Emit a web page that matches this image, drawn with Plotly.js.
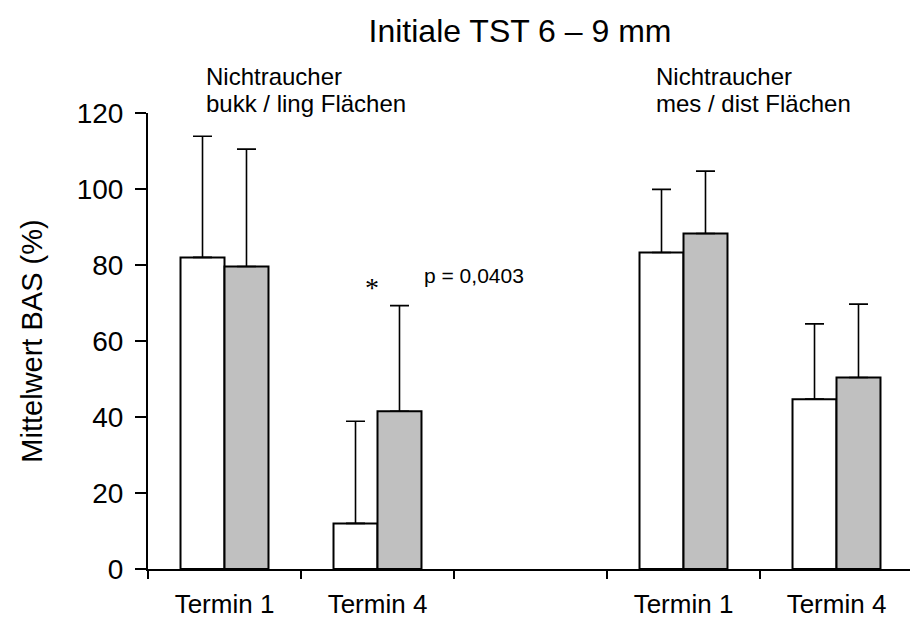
<!DOCTYPE html>
<html>
<head>
<meta charset="utf-8">
<script src="https://cdn.plot.ly/plotly-3.0.1.min.js"></script>
<style>
  html, body { margin: 0; padding: 0; background: #ffffff; }
  #chart { width: 910px; height: 619px; }
</style>
</head>
<body>
<div id="chart"></div>
<script>
// ---- data ----
const slotIds = ["bl_T1", "bl_T4", "gap", "md_T1", "md_T4"];
const slotLabels = ["Termin 1", "Termin 4", "", "Termin 1", "Termin 4"];
const seriesA = [82.0, 12.0, null, 83.3, 44.7];      // white bars
const seriesA_sd = [31.9, 26.9, null, 16.6, 19.8];
const seriesB = [79.6, 41.5, null, 88.3, 50.4];      // grey bars
const seriesB_sd = [30.9, 27.8, null, 16.4, 19.3];
const yTicks = [0, 20, 40, 60, 80, 100, 120];
const chartTitle = "Initiale TST 6 – 9 mm";
const yTitle = "Mittelwert BAS (%)";
const groupLeft = ["Nichtraucher", "bukk / ling Flächen"];
const groupRight = ["Nichtraucher", "mes / dist Flächen"];
const sigMark = "*";
const pText = "p = 0,0403";

const FONT = "Liberation Sans, Arial, sans-serif";

// plot-area geometry helpers (pixels -> paper)
const W = 910, H = 619;
const M = { l: 148, r: 0, t: 113, b: 50 };
const PW = W - M.l - M.r, PH = H - M.t - M.b;
const px = x => (x - M.l) / PW;
const py = y => (H - M.b - y) / PH;

function barTrace(vals, sd, fill) {
  return {
    type: "bar",
    x: slotIds,
    y: vals,
    marker: { color: fill, line: { color: "#000000", width: 2 } },
    error_y: {
      type: "data", symmetric: false,
      array: sd, arrayminus: sd.map(v => (v === null ? null : 0)),
      color: "#000000", thickness: 1.6, width: 9.5, visible: true
    },
    hoverinfo: "skip",
    showlegend: false
  };
}

const data = [
  barTrace(seriesA, seriesA_sd, "#ffffff"),
  barTrace(seriesB, seriesB_sd, "#c0c0c0")
];

const layout = {
  width: W, height: H,
  margin: M,
  paper_bgcolor: "#ffffff",
  plot_bgcolor: "#ffffff",
  font: { family: FONT, color: "#000000" },
  barmode: "group",
  bargap: 0.425,
  bargroupgap: 0,
  showlegend: false,
  title: {
    text: chartTitle,
    font: { size: 32, family: FONT, color: "#000000" },
    x: 520 / W, xanchor: "center",
    y: 1 - 31 / H, yanchor: "middle",
    xref: "container", yref: "container"
  },
  xaxis: {
    type: "category",
    categoryorder: "array",
    categoryarray: slotIds,
    tickmode: "array",
    tickvals: slotIds,
    ticktext: slotLabels,
    tickson: "boundaries",
    range: [-0.5, -0.5 + PW / 153],
    showline: true, linecolor: "#000000", linewidth: 2,
    ticks: "outside", ticklen: 8, tickwidth: 2, tickcolor: "#000000",
    tickfont: { size: 26, family: FONT, color: "#000000" },
    ticklabelstandoff: 11,
    showgrid: false, zeroline: false, fixedrange: true
  },
  yaxis: {
    range: [0, 120],
    tickmode: "array",
    tickvals: yTicks,
    ticktext: yTicks.map(String),
    showline: true, linecolor: "#000000", linewidth: 2,
    ticks: "outside", ticklen: 11, tickwidth: 2, tickcolor: "#000000",
    tickfont: { size: 28, family: FONT, color: "#000000" },
    ticklabelstandoff: 6,
    showgrid: false, zeroline: false, fixedrange: true,
    title: {
      text: yTitle,
      font: { size: 29, family: FONT, color: "#000000" },
      standoff: 26
    }
  },
  annotations: [
    { text: groupLeft[0], x: px(204), y: py(77), xref: "paper", yref: "paper",
      xanchor: "left", yanchor: "middle", showarrow: false, font: { size: 24, family: FONT } },
    { text: groupLeft[1], x: px(204), y: py(103), xref: "paper", yref: "paper",
      xanchor: "left", yanchor: "middle", showarrow: false, font: { size: 24, family: FONT } },
    { text: groupRight[0], x: px(654), y: py(77), xref: "paper", yref: "paper",
      xanchor: "left", yanchor: "middle", showarrow: false, font: { size: 24, family: FONT } },
    { text: groupRight[1], x: px(654), y: py(103), xref: "paper", yref: "paper",
      xanchor: "left", yanchor: "middle", showarrow: false, font: { size: 24, family: FONT } },
    { text: sigMark, x: px(372), y: py(287), xref: "paper", yref: "paper",
      xanchor: "center", yanchor: "middle", showarrow: false,
      font: { size: 28, family: "Liberation Serif, Times New Roman, serif" } },
    { text: pText, x: px(422), y: py(275), xref: "paper", yref: "paper",
      xanchor: "left", yanchor: "middle", showarrow: false, font: { size: 21, family: FONT } }
  ]
};

Plotly.newPlot("chart", data, layout, { staticPlot: true, displayModeBar: false });
</script>
</body>
</html>
